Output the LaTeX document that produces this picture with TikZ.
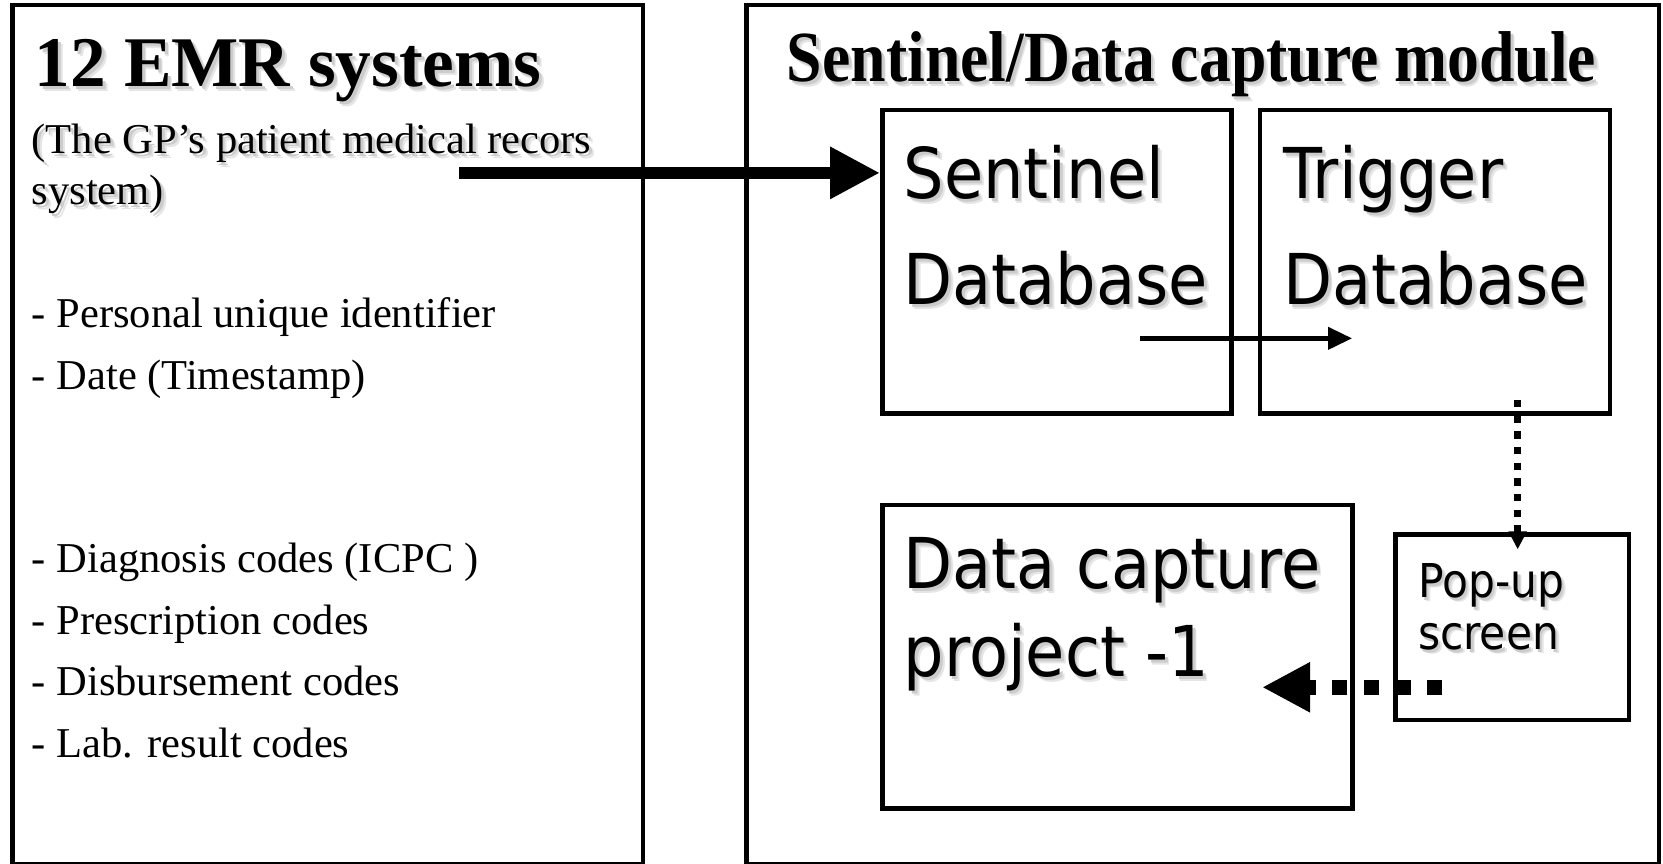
\documentclass[tikz,border=0pt]{standalone}
\usepackage{fontspec}
\usepackage{graphicx}
\setmainfont{Liberation Serif}
\newfontfamily\dbfont{DejaVu Sans}
\usetikzlibrary{arrows.meta}

% text with a soft grey drop shadow (two layers fake the blur)
\newcommand\shd[1]{%
  \makebox[0pt][l]{\hspace{1.3pt}\raisebox{-1.3pt}{\textcolor{black!10}{#1}}}%
  \makebox[0pt][l]{\hspace{0.8pt}\raisebox{-0.8pt}{\textcolor{black!20}{#1}}}#1}
% narrow sans label for the database boxes
\newcommand\dbtxt[1]{\scalebox{0.91}[1]{\shd{#1}}}

\tikzset{
  panel/.style={draw, line width=1.2pt, rectangle, inner sep=0pt},
  txt/.style={anchor=base west, inner sep=0pt, outer sep=0pt},
  bigtitle/.style={txt, font=\fontsize{19.1pt}{19.1pt}\selectfont\bfseries},
  serifitem/.style={txt, font=\fontsize{11.4pt}{11.4pt}\selectfont},
  dblabel/.style={txt, font=\dbfont\fontsize{18.8pt}{18.8pt}\selectfont},
  smalllabel/.style={txt, font=\dbfont\fontsize{12.5pt}{12.5pt}\selectfont},
}

\begin{document}
\begin{tikzpicture}[x=0.01cm, y=-0.01cm]
\useasboundingbox (0,0) rectangle (1568,814);

% outer panels (their lower edges run along the page bottom)
\node[panel, minimum width=5.94cm, minimum height=8.10cm] (emr) at (309,410) {};
\node[panel, minimum width=8.60cm, minimum height=8.10cm] (module) at (1134,410) {};

% boxes of the capture module
\node[panel, minimum width=3.29cm, minimum height=2.86cm] (sentinel) at (996.5,247) {};
\node[panel, minimum width=3.30cm, minimum height=2.86cm] (trigger) at (1353,247) {};
\node[panel, minimum width=4.43cm, minimum height=2.86cm] (capture) at (1053.5,619) {};
\node[panel, minimum width=2.20cm, minimum height=1.75cm] (popup) at (1426,591.5) {};

% left panel texts
\node[bigtitle] (emrtitle) at (33,82) {\shd{12 EMR systems}};
\node[serifitem] (gp1) at (30,145) {\shd{(The GP’s patient medical recors}};
\node[serifitem] (gp2) at (30,193) {\shd{system)}};
\node[serifitem] (it1) at (30,309) {- Personal unique identifier};
\node[serifitem] (it2) at (30,367) {- Date (Timestamp)};
\node[serifitem] (it3) at (30,540) {- Diagnosis codes (ICPC )};
\node[serifitem] (it4) at (30,598) {- Prescription codes};
\node[serifitem] (it5) at (30,656) {- Disbursement codes};
\node[serifitem] (it6) at (30,714) {- Lab. result codes};

% right panel texts
\node[txt, font=\fontsize{19.3pt}{19.3pt}\selectfont\bfseries] (modtitle) at (742,77)
  {\scalebox{0.885}[1]{\shd{Sentinel/Data capture module}}};
\node[dblabel] (s1) at (852,187) {\dbtxt{Sentinel}};
\node[dblabel] (s2) at (852,287) {\dbtxt{Database}};
\node[dblabel] (t1) at (1210,187) {\dbtxt{Trigger}};
\node[dblabel] (t2) at (1210,287) {\dbtxt{Database}};
\node[dblabel] (c1) at (852,555) {\dbtxt{Data capture}};
\node[dblabel] (c2) at (852,638) {\dbtxt{project -1}};
\node[smalllabel] (p1) at (1337,563) {\dbtxt{Pop-up}};
\node[smalllabel] (p2) at (1337,612) {\dbtxt{screen}};

% connector end points
\coordinate (gpsrc) at (433,163);
\coordinate (feedsrc) at (1075,319);
\coordinate (feeddst) at (1275,319);
\coordinate (trigsrc) at (1431,377);
\coordinate (popdst) at (1431,518);
\coordinate (popsrc) at (1360,648);
\coordinate (capdst) at (1190,648);

% EMR records into the Sentinel database
\draw[line width=3.4pt, -{Triangle[length=13.4pt,width=13.1pt]}]
  (gpsrc) -- (gpsrc -| sentinel.west);
% Sentinel to Trigger database
\draw[line width=1.4pt, -{Triangle[length=6.5pt,width=5.8pt]}]
  (feedsrc) -- (feeddst);
% Trigger database raises the pop-up
\draw[line width=2pt, dash pattern=on 2pt off 2.2pt,
  -{Triangle[length=4.8pt,width=4.6pt]}] (trigsrc) -- (popdst);
% pop-up hands over to the capture project
\draw[line width=4pt, dash pattern=on 4pt off 4.5pt,
  -{Triangle[length=12.9pt,width=12.6pt]}] (popsrc) -- (capdst);
\end{tikzpicture}
\end{document}
